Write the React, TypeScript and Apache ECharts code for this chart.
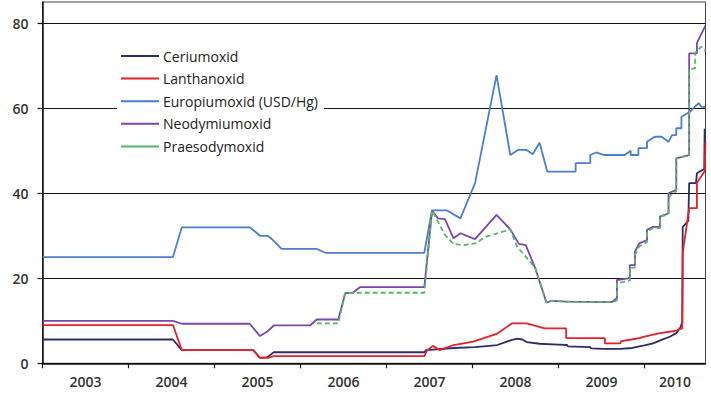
import React, { useEffect, useRef } from "react";
import * as echarts from "echarts";

const seriesNames = ["Ceriumoxid", "Lanthanoxid", "Europiumoxid (USD/Hg)", "Neodymiumoxid", "Praesodymoxid"];
const seriesColors = ["#2b2d6b", "#e42228", "#4a7ed1", "#7b46ad", "#55b865"];

const yTicks = [0, 20, 40, 60, 80];
const yearTicks = [2003, 2004, 2005, 2006, 2007, 2008, 2009, 2010];
const yearLabelPositions = [2003.5, 2004.5, 2005.5, 2006.5, 2007.5, 2008.5, 2009.5, 2010.355];

const ceriumData: number[][] = [
  [2003, 5.6], [2004.517, 5.6], [2004.62, 3.1], [2005.45, 3.1], [2005.53, 1.3], [2005.61, 1.4],
  [2005.69, 2.6], [2007.44, 2.6], [2007.46, 3.1], [2007.78, 3.6], [2008.03, 3.8], [2008.29, 4.3],
  [2008.44, 5.4], [2008.52, 5.8], [2008.58, 5.6], [2008.63, 5.0], [2008.78, 4.6], [2009.0, 4.4],
  [2009.1, 4.3], [2009.11, 4.0], [2009.37, 3.8], [2009.38, 3.5], [2009.52, 3.4], [2009.72, 3.4],
  [2009.86, 3.6], [2009.94, 4.0], [2010.0, 4.2], [2010.1, 4.7], [2010.2, 5.5], [2010.3, 6.3],
  [2010.37, 7.1], [2010.42, 8.5], [2010.44, 9.8], [2010.445, 32.1], [2010.51, 33.5], [2010.52, 42.4],
  [2010.6, 42.4], [2010.61, 44.7], [2010.695, 45.7], [2010.7, 55.2]
];

const lanthanData: number[][] = [
  [2003, 9.0], [2004.517, 9.0], [2004.62, 3.1], [2005.45, 3.1], [2005.53, 1.3], [2005.62, 1.3],
  [2005.69, 1.7], [2007.44, 1.7], [2007.47, 3.0], [2007.54, 4.1], [2007.62, 3.1], [2007.78, 4.3],
  [2008.01, 5.1], [2008.29, 7.0], [2008.46, 9.4], [2008.63, 9.4], [2008.84, 8.2], [2009.09, 8.2],
  [2009.09, 5.9], [2009.54, 5.9], [2009.54, 4.7], [2009.72, 4.7], [2009.73, 5.2], [2009.85, 5.6],
  [2009.95, 6.0], [2010.0, 6.3], [2010.18, 7.1], [2010.35, 7.6], [2010.44, 8.2], [2010.445, 26.0],
  [2010.52, 36.5], [2010.61, 36.5], [2010.61, 42.5], [2010.7, 45.2], [2010.71, 52.0]
];

const europiumData: number[][] = [
  [2003, 25], [2004.517, 25], [2004.62, 32], [2005.41, 32], [2005.53, 30], [2005.62, 30],
  [2005.68, 29], [2005.78, 26.9], [2006.19, 26.9], [2006.29, 26], [2007.44, 26], [2007.53, 36],
  [2007.7, 36], [2007.86, 34.1], [2008.03, 42.4], [2008.28, 67.8], [2008.44, 49], [2008.53, 50.2],
  [2008.63, 50.2], [2008.7, 49.2], [2008.78, 51.9], [2008.87, 45.1], [2009.2, 45.1], [2009.2, 47.1],
  [2009.37, 47.1], [2009.37, 49], [2009.44, 49.6], [2009.53, 49], [2009.77, 49], [2009.84, 50],
  [2009.84, 49], [2009.93, 49], [2009.93, 50.6], [2010.03, 50.6], [2010.03, 52.1], [2010.12, 53.3],
  [2010.2, 53.3], [2010.28, 52.1], [2010.32, 53.7], [2010.37, 53.7], [2010.37, 55.3], [2010.43, 55.3],
  [2010.43, 58], [2010.53, 59.2], [2010.63, 61.2], [2010.66, 60.4], [2010.71, 60.3]
];

const neodymData: number[][] = [
  [2003, 10], [2004.517, 10], [2004.62, 9.3], [2005.41, 9.3], [2005.53, 6.4], [2005.61, 7.4],
  [2005.69, 8.9], [2006.11, 8.9], [2006.19, 10.3], [2006.44, 10.3], [2006.52, 16.5], [2006.61, 16.6],
  [2006.69, 17.9], [2007.44, 17.9], [2007.53, 35.9], [2007.6, 34.1], [2007.68, 33.9], [2007.78, 29.4],
  [2007.86, 30.6], [2008.03, 29.2], [2008.28, 34.9], [2008.44, 31.5], [2008.54, 28.1], [2008.62, 27.8],
  [2008.73, 22.4], [2008.86, 14.3], [2008.92, 14.7], [2009.1, 14.5], [2009.62, 14.4], [2009.68, 15.3],
  [2009.68, 19.6], [2009.81, 20], [2009.83, 20.4], [2009.83, 23.1], [2009.89, 23.1], [2009.89, 26.3],
  [2009.94, 28.2], [2010.03, 29], [2010.03, 31.4], [2010.1, 32.1], [2010.18, 32.1], [2010.18, 34.5],
  [2010.28, 35.3], [2010.28, 40], [2010.37, 40.8], [2010.37, 48.2], [2010.52, 49], [2010.52, 72.9],
  [2010.61, 72.9], [2010.61, 75.3], [2010.71, 79.5]
];

const praesodymData: number[][] = [
  [2006.19, 9.4], [2006.44, 9.4], [2006.52, 16.5], [2006.61, 16.6], [2006.63, 16.6], [2007.44, 16.6],
  [2007.53, 35.9], [2007.62, 32.5], [2007.68, 30.2], [2007.78, 28.1], [2007.89, 27.8], [2008.03, 28.2],
  [2008.16, 29.8], [2008.44, 31.5], [2008.52, 27.4], [2008.67, 23.9], [2008.73, 22.4], [2008.86, 14.3],
  [2008.92, 14.7], [2009.1, 14.5], [2009.62, 14.4], [2009.68, 14.8], [2009.68, 18.8], [2009.83, 19.5],
  [2009.83, 22.5], [2009.89, 22.5], [2009.89, 25.5], [2009.94, 27.5], [2010.03, 28.5], [2010.03, 31],
  [2010.1, 31.8], [2010.18, 31.8], [2010.18, 34.5], [2010.28, 35], [2010.28, 38.5], [2010.3, 39.5],
  [2010.37, 40.5], [2010.37, 48.2], [2010.52, 49], [2010.52, 69], [2010.59, 69.5], [2010.59, 73],
  [2010.66, 74.5], [2010.71, 73.5]
];

const allData = [ceriumData, lanthanData, europiumData, neodymData, praesodymData];

export default function App() {
  const ref = useRef<HTMLDivElement>(null);
  useEffect(() => {
    if (!ref.current) return;
    const chart = echarts.init(ref.current, null, { renderer: "svg" });
    const font = "'Open Sans', 'DejaVu Sans', sans-serif";
    chart.setOption({
      animation: false,
      backgroundColor: "#ffffff",
      grid: {
        left: 42.5,
        right: 5.5,
        top: 2,
        bottom: 34.7,
        show: true,
        borderColor: "#444",
        borderWidth: 1,
        backgroundColor: "transparent",
      },
      legend: {
        orient: "vertical",
        left: 117,
        top: 48,
        padding: [1, 6, 1, 3],
        itemWidth: 38,
        itemHeight: 14,
        itemGap: 8.6,
        backgroundColor: "#ffffff",
        data: seriesNames,
        itemStyle: { opacity: 0 },
        lineStyle: { type: "solid", width: 2 },
        textStyle: { fontFamily: font, fontSize: 14, color: "#222", padding: [0, 0, 0, -1] },
      },
      xAxis: {
        type: "value",
        min: 2003,
        max: 2010.71,
        axisLine: { show: true, lineStyle: { color: "#111", width: 1.5 } },
        axisTick: { show: true, customValues: yearTicks, length: 5, lineStyle: { color: "#111", width: 1.2 } },
        axisLabel: {
          customValues: yearLabelPositions,
          formatter: (v: number) => String(Math.floor(v)),
          fontFamily: font,
          fontSize: 14,
          fontWeight: 600,
          color: "#333",
          margin: 11,
        },
        splitLine: { show: false },
      },
      yAxis: {
        type: "value",
        min: 0,
        max: 85,
        interval: 20,
        axisLine: { show: true, lineStyle: { color: "#111", width: 1.5 } },
        axisTick: { show: true, customValues: yTicks, length: 5, lineStyle: { color: "#111", width: 1.2 } },
        axisLabel: {
          customValues: yTicks,
          fontFamily: font,
          fontSize: 14,
          fontWeight: 600,
          color: "#333",
          margin: 14,
        },
        splitLine: { show: true, lineStyle: { color: "#111", width: 1.2 } },
      },
      series: seriesNames.map((name, i) => ({
        name,
        type: "line",
        data: allData[i],
        showSymbol: false,
        symbol: "none",
        color: seriesColors[i],
        lineStyle: {
          color: seriesColors[i],
          width: 1.8,
          type: i === 4 ? [5, 3] : "solid",
        },
        z: 2 + i,
      })),
    });
    return () => chart.dispose();
  }, []);
  return (
    <div
      ref={ref}
      style={{ position: "absolute", left: 0, top: 0, width: 711, height: 398 }}
    />
  );
}
